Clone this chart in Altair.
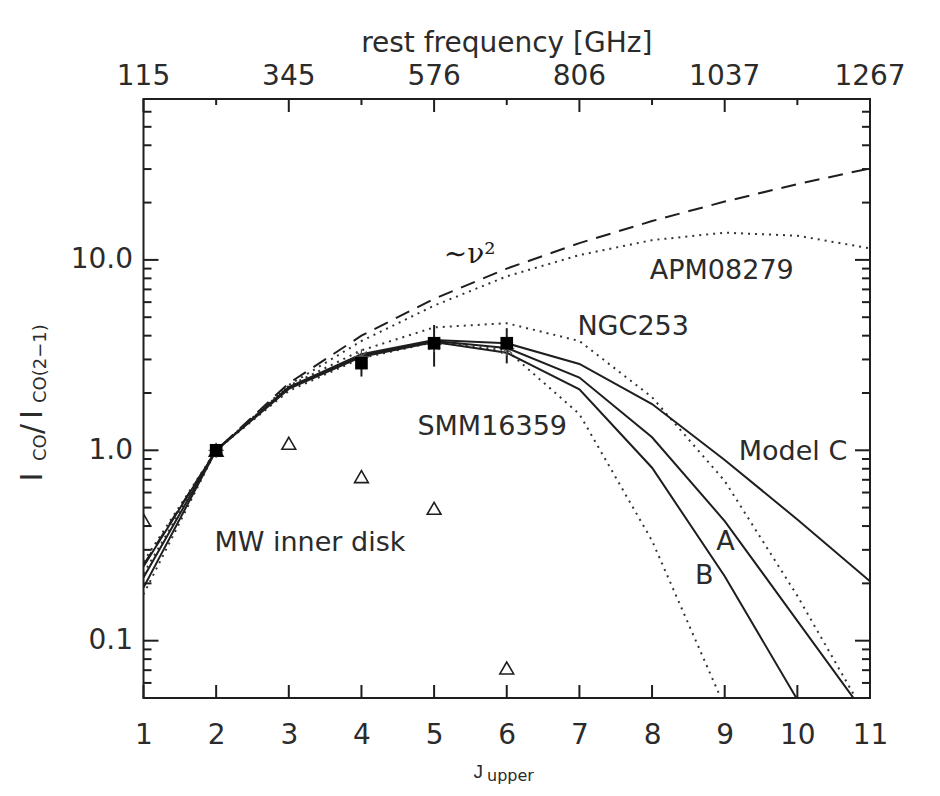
import altair as alt
import pandas as pd

# ---------------- data ----------------
J = list(range(1, 12))
model_C = [0.245, 1.0, 2.15, 3.2, 3.8, 3.65, 2.84, 1.75, 0.89, 0.433, 0.205]
model_A = [0.215, 1.0, 2.13, 3.15, 3.75, 3.45, 2.41, 1.17, 0.425, 0.127, 0.038]
model_B = [0.19, 1.0, 2.1, 3.1, 3.7, 3.25, 2.09, 0.81, 0.218, 0.049, 0.012]
apm08279 = [0.26, 1.0, 2.2, 3.75, 5.75, 8.2, 10.6, 12.7, 13.9, 13.4, 11.5]
ngc253 = [0.225, 1.0, 2.18, 3.35, 4.42, 4.65, 3.75, 1.9, 0.69, 0.172, 0.037]
smm_J = [1, 2, 3, 4, 5, 6, 7, 8, 9]
smm16359_fit = [0.175, 1.0, 2.05, 3.05, 3.7, 3.35, 1.55, 0.335, 0.045]
nu2 = [0.25, 1.0, 2.25, 4.0, 6.25, 9.0, 12.25, 16.0, 20.25, 25.0, 30.25]

obs_J = [2, 4, 5, 6]
obs_v = [1.0, 2.87, 3.65, 3.65]
obs_lo = [0.97, 2.44, 2.75, 2.86]
obs_hi = [1.03, 3.24, 4.55, 4.38]
star_J = [2, 4, 5, 6]
star_v = [1.0, 3.1, 3.6, 3.43]

mw_J = [1, 2, 3, 4, 5, 6]
mw_v = [0.431, 1.0, 1.089, 0.727, 0.496, 0.0719]

freq_J = [1, 3, 5, 7, 9, 11]
freq_labels = ["115", "345", "576", "806", "1037", "1267"]
minor_J = [2, 4, 6, 8, 10]
y_major = [0.1, 1, 10]
y_minor = [0.05, 0.06, 0.07, 0.08, 0.09, 0.2, 0.3, 0.4, 0.5, 0.6, 0.7, 0.8, 0.9,
           2, 3, 4, 5, 6, 7, 8, 9, 20, 30, 40, 50, 60, 70]

ann_text = ["MW inner disk", "SMM16359", "NGC253", "APM08279", "Model C", "A", "B"]
ann_J = [3.29, 5.80, 7.74, 8.96, 9.94, 9.01, 8.72]
ann_v = [0.326, 1.327, 4.45, 8.75, 0.98, 0.328, 0.219]

# ---------------- styling ----------------
FONT = "DejaVu Sans"
INK = "#1e1e1e"
TXT = "#2b2b2b"
W, H = 726.5, 599

xs = alt.Scale(domain=[1, 11], nice=False, zero=False)
ys = alt.Scale(type="log", domain=[0.05, 70], nice=False)
xaxis = alt.Axis(values=J, format="d", ticks=False, tickSize=0, domain=False, grid=False,
                 labelPadding=23, title=None, labelFlush=False, labelOverlap=False,
                 labelFontSize=28, labelFont=FONT, labelColor=TXT)
yaxis = alt.Axis(values=y_major, format=".1f", ticks=False, tickSize=0, domain=False, grid=False,
                 labelPadding=11, title=None, labelFlush=False, labelOverlap=False,
                 labelFontSize=28, labelFont=FONT, labelColor=TXT)


def X():
    return alt.X("J:Q", scale=xs, axis=xaxis)


def Y():
    return alt.Y("v:Q", scale=ys, axis=yaxis)


def long(series):
    rows = []
    for name, js, vals in series:
        for j, v in zip(js, vals):
            rows.append({"name": name, "J": j, "v": v})
    return pd.DataFrame(rows)


solid_df = long([("C", J, model_C), ("A", J, model_A), ("B", J, model_B)])
dotted_df = long([("APM", J, apm08279), ("NGC", J, ngc253), ("SMM", smm_J, smm16359_fit)])
dashed_df = long([("nu2", J, nu2)])

solid = alt.Chart(solid_df).mark_line(color=INK, strokeWidth=2, clip=True).encode(
    x=X(), y=Y(), detail="name:N")
dotted = alt.Chart(dotted_df).mark_line(color="#333", strokeWidth=2, strokeDash=[2, 5], clip=True).encode(
    x=X(), y=Y(), detail="name:N")
dashed = alt.Chart(dashed_df).mark_line(color=INK, strokeWidth=2, strokeDash=[15, 9], clip=True).encode(
    x=X(), y=Y())

mw = alt.Chart(pd.DataFrame({"J": mw_J, "v": mw_v})).mark_point(
    shape="triangle-up", filled=False, size=190, strokeWidth=1.6, color=INK, opacity=1, clip=True
).encode(x=X(), y=Y())

err = alt.Chart(pd.DataFrame({"J": obs_J, "v": obs_lo, "hi": obs_hi})).mark_rule(
    color=INK, strokeWidth=2).encode(x=X(), y=Y(), y2="hi:Q")
stars = alt.Chart(pd.DataFrame({"J": star_J, "v": star_v})).mark_point(
    shape="M-1,0L1,0M0,-1L0,1M-0.7,-0.7L0.7,0.7M-0.7,0.7L0.7,-0.7",
    filled=False, size=230, strokeWidth=1.3, color="#555", opacity=1).encode(x=X(), y=Y())
squares = alt.Chart(pd.DataFrame({"J": obs_J, "v": obs_v})).mark_point(
    shape="square", filled=True, size=160, color="#000", opacity=1).encode(x=X(), y=Y())

ann = alt.Chart(pd.DataFrame({"J": ann_J, "v": ann_v, "t": ann_text})).mark_text(
    font=FONT, fontSize=27, color=TXT, align="center", baseline="middle").encode(
    x=X(), y=Y(), text="t:N")
nu_lbl = alt.Chart(pd.DataFrame({"J": [5.49], "v": [10.6], "t": ["∼ν²"]})).mark_text(
    font="DejaVu Serif", fontSize=28, color=INK, align="center", baseline="middle").encode(
    x=X(), y=Y(), text="t:N")

# ---- inward ticks ----
bot_ticks = alt.Chart(pd.DataFrame({"J": J})).mark_rule(color=INK, strokeWidth=2).encode(
    x=X(), y=alt.value(H), y2=alt.value(H - 13))
top_major = alt.Chart(pd.DataFrame({"J": freq_J})).mark_rule(color=INK, strokeWidth=2).encode(
    x=X(), y=alt.value(0), y2=alt.value(13))
top_minor = alt.Chart(pd.DataFrame({"J": minor_J})).mark_rule(color=INK, strokeWidth=2).encode(
    x=X(), y=alt.value(0), y2=alt.value(6))
left_major = alt.Chart(pd.DataFrame({"v": y_major})).mark_rule(color=INK, strokeWidth=2).encode(
    y=Y(), x=alt.value(0), x2=alt.value(15))
left_minor = alt.Chart(pd.DataFrame({"v": y_minor})).mark_rule(color=INK, strokeWidth=2).encode(
    y=Y(), x=alt.value(0), x2=alt.value(8))
right_major = alt.Chart(pd.DataFrame({"v": y_major})).mark_rule(color=INK, strokeWidth=2).encode(
    y=Y(), x=alt.value(W), x2=alt.value(W - 15))
right_minor = alt.Chart(pd.DataFrame({"v": y_minor})).mark_rule(color=INK, strokeWidth=2).encode(
    y=Y(), x=alt.value(W), x2=alt.value(W - 8))

# ---- top frequency axis labels + title ----
top_lbl = alt.Chart(pd.DataFrame({"J": freq_J, "t": freq_labels})).mark_text(
    font=FONT, fontSize=28, color=TXT, align="center", baseline="alphabetic").encode(
    x=X(), y=alt.value(-14), text="t:N")
top_title = alt.Chart(pd.DataFrame({"t": ["rest frequency [GHz]"]})).mark_text(
    font=FONT, fontSize=28, color=TXT, align="center", baseline="alphabetic").encode(
    x=alt.value(W / 2), y=alt.value(-47), text="t:N")

# ---- x title J_upper ----
xt_J = alt.Chart(pd.DataFrame({"t": ["J"]})).mark_text(
    font="Liberation Sans", fontSize=19, color=TXT, align="right", baseline="alphabetic").encode(
    x=alt.value(339.5), y=alt.value(679), text="t:N")
xt_sub = alt.Chart(pd.DataFrame({"t": ["upper"]})).mark_text(
    font=FONT, fontSize=16, color=TXT, align="left", baseline="alphabetic").encode(
    x=alt.value(343.5), y=alt.value(682), text="t:N")

# ---- y title I_CO / I_CO(2-1), rotated ----
def ypiece(txt, size, xb, ystart):
    return alt.Chart(pd.DataFrame({"t": [txt]})).mark_text(
        font=FONT, fontSize=size, color=TXT, align="left", baseline="alphabetic", angle=270).encode(
        x=alt.value(xb), y=alt.value(ystart), text="t:N")


yt = [
    ypiece("I", 30, -101.5, 382.5),
    ypiece("CO", 18, -97.5, 362),
    ypiece("/", 30, -101.5, 335),
    ypiece("I", 30, -101.5, 320),
    ypiece("CO(2−1)", 18, -97.5, 304),
]

chart = alt.layer(
    bot_ticks, top_major, top_minor, left_major, left_minor, right_major, right_minor,
    dotted, dashed, solid, mw, err, stars, squares, ann, nu_lbl,
    top_lbl, top_title, xt_J, xt_sub, *yt
).properties(
    width=W, height=H,
    autosize=alt.AutoSizeParams(type="none"),
    padding={"left": 135.5, "top": 91, "right": 58, "bottom": 86},
    background="white",
).configure_view(stroke=INK, strokeWidth=2)

chart.save("out.html", embed_options={"renderer": "svg", "actions": False})
